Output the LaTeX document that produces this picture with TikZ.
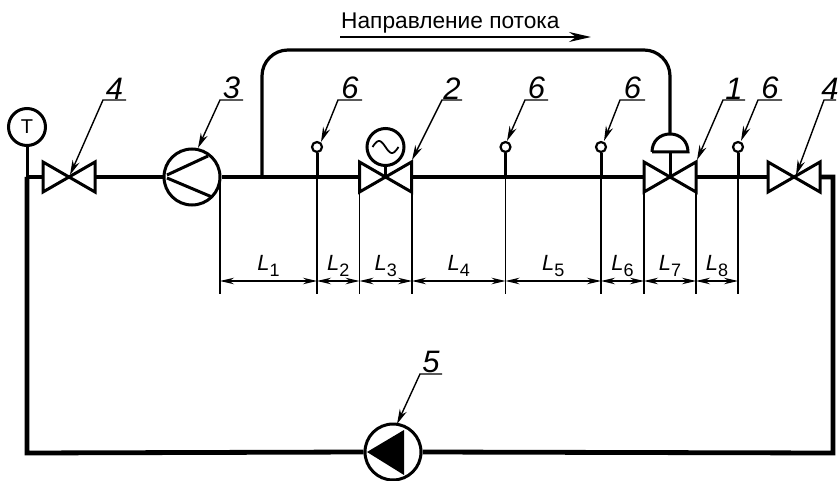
\documentclass[tikz,border=0pt]{standalone}
\usepackage{fontspec}
\setmainfont{Liberation Sans}
\usetikzlibrary{arrows.meta}
\tikzset{
	pipe/.style = {line width=4.8pt},
	bypass/.style = {line width=3.2pt, rounded corners=26pt},
	sym/.style = {line width=3pt},
	thin_l/.style = {line width=1.4pt},
	dim_l/.style = {line width=1.3pt, {Stealth[length=14pt,width=6.5pt]}-{Stealth[length=14pt,width=6.5pt]}},
	lead_l/.style = {line width=1.4pt, -{Stealth[length=15pt,width=7.5pt]}},
	circ_n/.style = {circle, sym, draw=black, fill=white, inner sep=0pt},
	pump_n/.style = {circ_n, minimum size=56pt},
	sens_n/.style = {circle, line width=2.2pt, draw=black, fill=white, inner sep=0pt, minimum size=10pt},
	num_n/.style = {font=\fontsize{31}{31}\selectfont\itshape, inner sep=0.5pt, anchor=south},
	len_n/.style = {font=\fontsize{22}{22}\selectfont, inner sep=1pt, anchor=south},
	valve/.pic = {
		\draw[sym, line join=miter] (-26,-15) -- (26,15) -- (26,-15) -- (-26,15) -- cycle;
		\coordinate (-l) at (-26,0);
		\coordinate (-r) at (26,0);
		\coordinate (-c) at (0,0);
	}
}
\begin{document}
\begin{tikzpicture}[x=1pt,y=-1pt]
	\useasboundingbox (0,0) rectangle (838,481);
	% corners of the loop
	\coordinate (tl) at (27,177);
	\coordinate (tr) at (833,177);
	\coordinate (bl) at (27,453);
	\coordinate (br) at (833,453);
	\coordinate (tee) at (262,177);
	% devices on the line
	\pic (vl) at (69,177) {valve};
	\pic (vr) at (794,177) {valve};
	\pic (vreg) at (385.5,177) {valve};
	\pic (vctl) at (670,177) {valve};
	\node[pump_n] (comp) at (192,177) {};
	\node[pump_n] (pump) at (393,452) {};
	\node[circ_n, minimum size=37pt, font=\fontsize{20}{20}\selectfont] (temp) at (27,127) {T};
	\node[circ_n, minimum size=37pt] (gen) at (385.5,147) {};
	\draw[pipe] (tl) -- (vl-l);
	\draw[pipe] (vl-r) -- (comp.west);
	\draw[pipe] (comp.east) -- (vreg-l);
	\draw[pipe] (vreg-r) -- (vctl-l);
	\draw[pipe] (vctl-r) -- (vr-l);
	\draw[pipe, line join=miter] (vr-r) -- (tr) -- (br) -- (pump.east);
	\draw[pipe, line join=miter] (pump.west) -- (bl) -- (tl);
	\draw[sym] (temp.south) -- (tl);
	\draw[sym] (gen.south) -- (vreg-c);
	% inside of the pumps
	\draw[sym] (167,175) -- (208,156);
	\draw[sym] (167,178) -- (212,197);
	\fill (367,452) -- (404,430) -- (404,475) -- cycle;
	% sine wave
	\begin{scope}[shift={(385.5,147)}]
		\draw[line width=1.8pt] plot[domain=-13:13,samples=30,smooth] (\x,{6*sin(\x*180/13)});
	\end{scope}
	% bypass and actuator
	\node[circle, inner sep=0pt, minimum size=0pt] (dome) at (670,134) {};
	\coordinate (dbase) at (670,152);
	\draw[bypass] (tee) -- (262,50) -- (670,50) -- (dome);
	\draw[sym] (652,152) -- (688,152) .. controls (688,141) and (680,134) .. (dome) .. controls (660,134) and (652,141) .. (652,152);
	\draw[sym] (dbase) -- (vctl-c);
	% pressure taps and extension lines
	\foreach \s/\x in {sa/317,sb/505.5,sc/601,sd/738}{
		\node[sens_n] (\s) at (\x,147) {};
		\coordinate (\s-p) at (\x,177);
		\draw[line width=3pt] (\s) -- (\s-p);
	}
	\foreach \i/\x in {0/220,1/317,2/359.5,3/412,4/505.5,5/601,6/644,7/696,8/738}{
		\coordinate (e\i) at (\x,177);
		\coordinate (f\i) at (\x,294);
		\coordinate (d\i) at (\x,281);
		\draw[thin_l] (e\i) -- (f\i);
	}
	% lengths
	\foreach \a/\b in {0/1,1/2,2/3,3/4,4/5,5/6,6/7,7/8}{
		\draw[dim_l] (d\a) -- (d\b);
		\path (d\a) -- (d\b) node[midway, len_n, yshift=3pt] (len\b) {\textit{L}\raisebox{-6pt}{\fontsize{18}{18}\selectfont\b}};
	}
	% position numbers
	\foreach \n/\t/\a/\b/\c/\d in {na/4/103/126/70/175, nb/3/220/243/198/148, nc/6/338/362/321/142, nd/2/442/462/412/160, ne/6/525/548/507/141, nf/6/620/645/604/141, ng/1/723/745/697/160, nh/6/758/782/741/141, ni/4/824/836/796/175}{
		\coordinate (\n-a) at (\a,100);
		\coordinate (\n-b) at (\b,100);
		\coordinate (\n-t) at (\c,\d);
		\draw[lead_l] (\n-b) -- (\n-a) -- (\n-t);
		\path (\n-a) -- (\n-b) node[midway, num_n] (\n) {\t};
	}
	\coordinate (nj-a) at (420,374);
	\coordinate (nj-b) at (442,374);
	\coordinate (nj-t) at (397,424);
	\draw[lead_l] (nj-b) -- (nj-a) -- (nj-t);
	\path (nj-a) -- (nj-b) node[midway, num_n] (nj) {5};
	% flow direction
	\coordinate (fa) at (340,37);
	\coordinate (fb) at (591,37);
	\draw[line width=1.6pt, -{Stealth[length=22pt,width=10pt]}] (fa) -- (fb);
	\node[font=\fontsize{22.7}{22.7}\selectfont, anchor=south west, inner sep=0pt] (flow) at (341,33) {Направление потока};
\end{tikzpicture}
\end{document}
